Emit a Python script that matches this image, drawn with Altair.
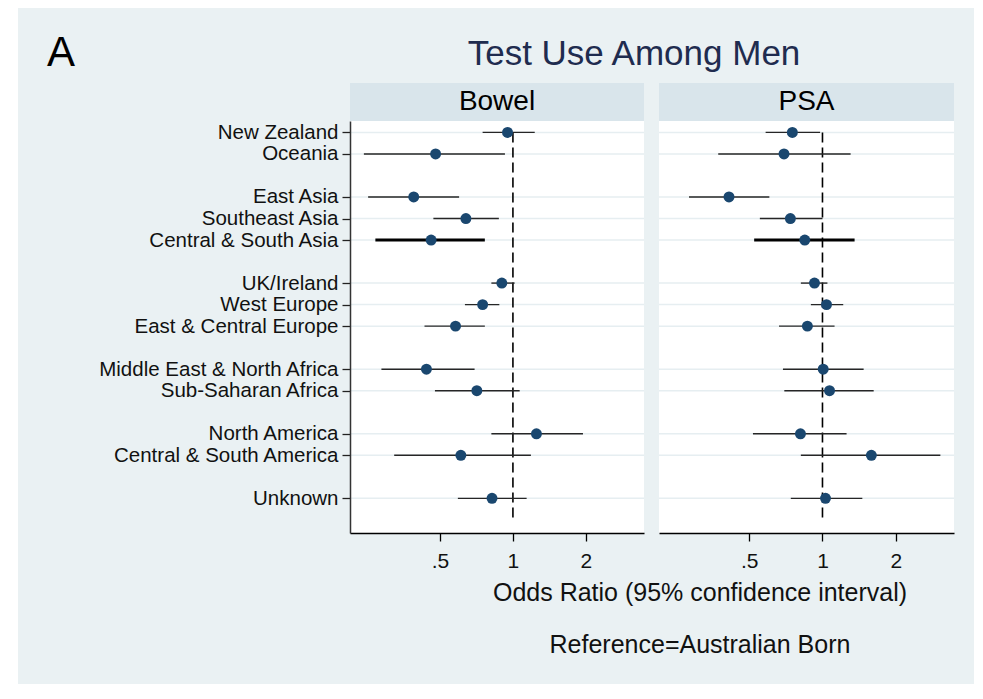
import altair as alt
import pandas as pd

# ---------------- data ----------------
regions = ["New Zealand", "Oceania", "East Asia", "Southeast Asia", "Central & South Asia",
           "UK/Ireland", "West Europe", "East  & Central Europe",
           "Middle East & North Africa", "Sub-Saharan Africa",
           "North America", "Central & South America", "Unknown"]
rows = [1, 2, 4, 5, 6, 8, 9, 10, 12, 13, 15, 16, 18]
thick = [0, 0, 0, 0, 1, 0, 0, 0, 0, 0, 0, 0, 0]

bowel_or = [0.95, 0.48, 0.39, 0.64, 0.46, 0.90, 0.75, 0.58, 0.44, 0.71, 1.25, 0.61, 0.82]
bowel_lo = [0.75, 0.243, 0.253, 0.47, 0.271, 0.815, 0.634, 0.432, 0.287, 0.477, 0.815, 0.324, 0.593]
bowel_hi = [1.23, 0.927, 0.60, 0.875, 0.766, 1.016, 0.879, 0.766, 0.695, 1.066, 1.944, 1.186, 1.139]

psa_or = [0.752, 0.695, 0.413, 0.738, 0.846, 0.927, 1.039, 0.867, 1.007, 1.069, 0.812, 1.588, 1.029]
psa_lo = [0.584, 0.373, 0.283, 0.553, 0.524, 0.815, 0.896, 0.663, 0.688, 0.697, 0.518, 0.815, 0.741]
psa_hi = [0.978, 1.305, 0.605, 1.0, 1.355, 1.048, 1.217, 1.121, 1.476, 1.623, 1.256, 3.05, 1.458]

x_ticks = [0.5, 1, 2]
ref_value = 1
ref_span = [1, 19]

FONT = "Liberation Sans"
BG = "#eaf1f3"
STRIP = "#d9e5eb"
GRID = "#e6eef1"
NAVY = "#1a476f"

W_L, W_R, H = 294, 295, 412

label_arr = [""] * 20
for r, name in zip(rows, regions):
    label_arr[r] = name
label_expr = "[" + ",".join("'" + s + "'" for s in label_arr) + "][datum.value]"

xscale = alt.Scale(type="log", domain=[0.213, 3.47], nice=False)
yscale = alt.Scale(domain=[0.47, 19.61], reverse=True, nice=False, zero=False)

xaxis = alt.Axis(values=x_ticks, title=None, grid=False, zindex=2,
                 labelExpr="datum.value == 0.5 ? '.5' : (datum.value == 1 ? '1' : '2')",
                 tickSize=8, tickColor="black", tickWidth=1.3,
                 domainColor="black", domainWidth=1.3,
                 labelFontSize=21, labelFont=FONT, labelColor="#111111",
                 labelPadding=9)


def one():
    return alt.Chart(pd.DataFrame({"k": [0]}))


def panel(name, o, lo, hi, width, show_y, extras):
    df = pd.DataFrame({"region": regions, "row": rows, "or": o, "lo": lo, "hi": hi,
                       "w": [3.0 if t else 1.4 for t in thick],
                       "c": ["black" if t else "#262626" for t in thick]})
    base = alt.Chart(df)
    yaxis = alt.Axis(values=rows, labelExpr=label_expr, title=None, grid=False, zindex=2,
                     tickSize=8, tickColor="#222", tickWidth=1.3,
                     domainColor="#333", domainWidth=1.5,
                     labelFontSize=20.5, labelFont=FONT, labelColor="#111111",
                     labelPadding=4, labelLimit=0, labelOverlap=False,
                     labelBound=False) if show_y else None
    layers = list(extras)
    # white plot area
    layers.append(one().mark_rect(fill="white").encode(
        x=alt.value(0), x2=alt.value(width), y=alt.value(0), y2=alt.value(H)))
    # strip
    layers.append(one().mark_rect(fill=STRIP).encode(
        x=alt.value(0), x2=alt.value(width), y=alt.value(-38), y2=alt.value(0)))
    layers.append(one().mark_text(text=name, font=FONT, fontSize=28, color="black",
                                  align="center", baseline="alphabetic").encode(
        x=alt.value(width / 2), y=alt.value(-11)))
    # gridlines
    layers.append(base.mark_rule(color=GRID, strokeWidth=1.5).encode(
        y=alt.Y("row:Q", scale=yscale, axis=yaxis),
        x=alt.value(0), x2=alt.value(width)))
    # reference dashed line
    ref = pd.DataFrame({"x": [ref_value], "y1": [ref_span[0]], "y2": [ref_span[1]]})
    layers.append(alt.Chart(ref).mark_rule(color="black", strokeWidth=1.6,
                                           strokeDash=[10, 5]).encode(
        x=alt.X("x:Q", scale=xscale, axis=xaxis),
        y=alt.Y("y1:Q", scale=yscale, axis=yaxis),
        y2="y2:Q"))
    # CIs
    layers.append(base.mark_rule().encode(
        x=alt.X("lo:Q", scale=xscale, axis=xaxis), x2="hi:Q",
        y=alt.Y("row:Q", scale=yscale, axis=yaxis),
        strokeWidth=alt.StrokeWidth("w:Q", scale=None),
        color=alt.Color("c:N", scale=None)))
    # points
    layers.append(base.mark_point(filled=True, shape="circle", size=120, opacity=1,
                                  color=NAVY).encode(
        x=alt.X("or:Q", scale=xscale, axis=xaxis),
        y=alt.Y("row:Q", scale=yscale, axis=yaxis)))
    return alt.layer(*layers).properties(width=width, height=H)


bg = one().mark_rect(fill=BG).encode(
    x=alt.value(-332), x2=alt.value(624), y=alt.value(-113), y2=alt.value(563))

texts = [
    one().mark_text(text="A", font=FONT, fontSize=42, color="black",
                    align="left", baseline="alphabetic").encode(
        x=alt.value(-303), y=alt.value(-55)),
    one().mark_text(text="Test Use Among Men", font=FONT, fontSize=35, color="#1f2c4f",
                    align="center", baseline="alphabetic").encode(
        x=alt.value(284), y=alt.value(-56)),
    one().mark_text(text="Odds Ratio (95% confidence interval)", font=FONT, fontSize=25,
                    color="#111111", align="center", baseline="alphabetic").encode(
        x=alt.value(350), y=alt.value(480)),
    one().mark_text(text="Reference=Australian Born", font=FONT, fontSize=25,
                    color="#111111", align="center", baseline="alphabetic").encode(
        x=alt.value(350), y=alt.value(532)),
]

left = panel("Bowel", bowel_or, bowel_lo, bowel_hi, W_L, True, [bg])
left = alt.layer(left, *texts)
right = panel("PSA", psa_or, psa_lo, psa_hi, W_R, False, [])

chart = alt.hconcat(left, right, spacing=15, bounds="flush").configure(
    background="white",
    padding={"left": 10, "top": 0, "right": 0, "bottom": 0},
).configure_view(stroke=None, fill="white").configure_axis(labelOverlap=False)

chart.save("out.html", embed_options={"renderer": "svg", "actions": False})
